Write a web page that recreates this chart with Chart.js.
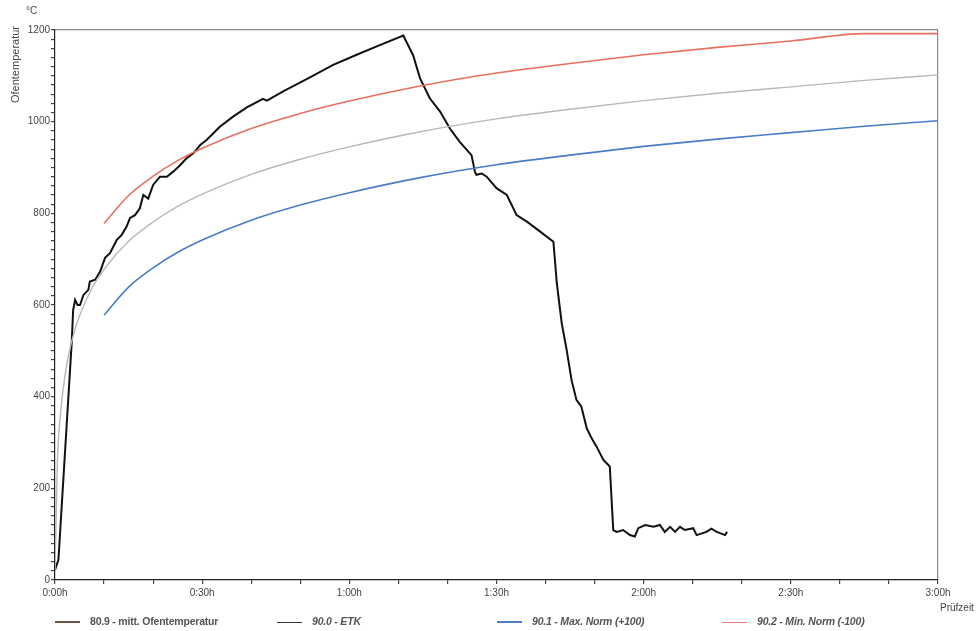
<!DOCTYPE html>
<html lang="de">
<head>
<meta charset="UTF-8">
<title>Ofentemperatur</title>
<script src="https://cdn.jsdelivr.net/npm/chart.js"></script>
<style>
  body { margin: 0; background: #fff; }
  #wrap { position: relative; width: 979px; height: 631px; }
  .leg { position: absolute; top: 615px; font: bold 10.5px "Liberation Sans", Arial, sans-serif; color: #555; white-space: nowrap; letter-spacing: -0.2px; }
  .leg i { display: inline-block; width: 25px; height: 2px; vertical-align: middle; margin-right: 10px; }
  .it { font-style: italic; }
</style>
</head>
<body>
<div id="wrap">
  <canvas id="c" width="979" height="631"></canvas>
  <div class="leg" style="left:55px"><i style="background:#6e5546"></i>80.9 - mitt. Ofentemperatur</div>
  <div class="leg it" style="left:277px"><i style="background:#333;height:1px"></i>90.0 - ETK</div>
  <div class="leg it" style="left:497px"><i style="background:#4a7cc8"></i>90.1 - Max. Norm (+100)</div>
  <div class="leg it" style="left:722px"><i style="background:#e88080;height:1px"></i>90.2 - Min. Norm (-100)</div>
</div>
<script>
// measured furnace temperature (minutes, °C)
const ofenTime = [0, 0.7, 3.4, 3.7, 4.1, 4.6, 5.1, 5.8, 6.8, 7.1, 8.2, 9.2, 10.2, 11.2, 12.6, 13.6, 14.6, 15.3, 16.3, 17.3,
  18, 19, 20, 21.4, 22.8, 24.1, 25.5, 26.8, 28.2, 29.6, 30.9, 33.6, 36.3, 39.1, 42.4, 43.2, 46.5, 51.3, 56.7, 61.5, 66.2, 71,
  73, 74.4, 76.4, 78.5, 80.5, 82.5, 84.9, 85.6, 85.9, 87, 88, 90, 92.1, 94.1, 96.2, 98.9, 101.6,
  102.3, 103.3, 104.3, 105.3, 106.3, 107.3, 108.4, 109.4, 110.4, 111.8, 112.8, 113.1, 113.8,
  114.5, 115.8, 117.2, 118.2, 118.9, 120.3, 122, 123.3, 124.3, 125.4, 126.4, 127.4, 128.4, 130.1, 130.8, 132.8, 133.8, 134.9, 136.6, 137];
const ofenTemp = [22, 44, 517, 589, 611, 600, 600, 622, 633, 651, 655, 673, 703, 713, 742, 753, 771, 790, 796, 811,
  840, 832, 862, 880, 880, 891, 905, 920, 931, 949, 960, 989, 1011, 1031, 1050, 1046, 1066, 1093, 1124, 1146, 1167, 1188,
  1145, 1095, 1051, 1022, 985, 956, 927, 891, 884, 887, 880, 855, 840, 796, 782, 760, 738,
  647, 560, 502, 436, 393, 378, 331, 309, 291, 262, 251, 247, 109,
  105, 109, 98, 95, 113, 120, 116, 120, 105, 116, 105, 116, 109, 113, 98, 105, 112, 105, 98, 105];

// ETK and tolerance curves
const etkTime = [0, 0.5, 1, 2, 3, 4, 5, 7.5, 10, 15, 20, 25, 30, 40, 50, 60, 75, 90, 105, 120, 135, 150, 165, 180];
const etkTemp = [20, 261, 349, 444, 502, 544, 576, 636, 678, 739, 781, 815, 842, 885, 918, 945, 979, 1006, 1027, 1046, 1062, 1076, 1090, 1102];
const normTime = [10, 15, 20, 25, 30, 40, 50, 60, 75, 90, 105, 120, 135, 150, 165, 180];
const maxNormTemp = [578, 639, 681, 715, 742, 785, 818, 845, 879, 906, 927, 946, 962, 976, 990, 1002];
const minNormTemp = [778, 839, 881, 915, 942, 985, 1018, 1045, 1079, 1106, 1127, 1146, 1162, 1176, 1192, 1192];

const xTicks = ['0:00h', '0:30h', '1:00h', '1:30h', '2:00h', '2:30h', '3:00h'];

const pts = (xs, ys) => xs.map((x, i) => ({ x: x, y: ys[i] }));

const labelsPlugin = {
  id: 'labels',
  afterDraw(chart) {
    const ctx = chart.ctx;
    ctx.save();
    ctx.fillStyle = '#444';
    ctx.font = '10px "Liberation Sans", Arial, sans-serif';
    ctx.fillText('°C', 26, 14);
    ctx.fillText('Prüfzeit', 940, 611);
    ctx.font = '11px "Liberation Sans", Arial, sans-serif';
    ctx.translate(19, 26);
    ctx.rotate(-Math.PI / 2);
    ctx.textAlign = 'right';
    ctx.fillText('Ofentemperatur', 0, 0);
    ctx.restore();
  }
};

new Chart(document.getElementById('c'), {
  type: 'line',
  data: {
    datasets: [
      { label: '90.2 - Min. Norm (-100)', data: pts(normTime, minNormTemp), borderColor: '#e8705e', borderWidth: 1.6, cubicInterpolationMode: 'monotone' },
      { label: '90.0 - ETK', data: pts(etkTime, etkTemp), borderColor: '#b8b8b8', borderWidth: 1.4, cubicInterpolationMode: 'monotone' },
      { label: '90.1 - Max. Norm (+100)', data: pts(normTime, maxNormTemp), borderColor: '#4a7cc8', borderWidth: 1.6, cubicInterpolationMode: 'monotone' },
      { label: '80.9 - mitt. Ofentemperatur', data: pts(ofenTime, ofenTemp), borderColor: '#111', borderWidth: 2, tension: 0, cubicInterpolationMode: 'default' }
    ]
  },
  options: {
    responsive: false,
    animation: false,
    elements: { point: { radius: 0 } },
    layout: { padding: { top: 30, right: 41, left: 0, bottom: 0 } },
    plugins: { legend: { display: false }, tooltip: { enabled: false } },
    scales: {
      x: {
        type: 'linear', min: 0, max: 180,
        afterFit: s => { s.height = 51; },
        ticks: {
          stepSize: 10, autoSkip: false, maxRotation: 0, padding: 3,
          color: '#444', font: { family: 'Liberation Sans', size: 10 },
          callback: v => v % 30 === 0 ? xTicks[v / 30] : ''
        },
        grid: {
          color: c => c.tick && c.tick.value === 180 ? '#888' : 'rgba(0,0,0,0)',
          tickColor: '#444', tickLength: 4, lineWidth: 1.2
        },
        border: { color: '#222', width: 1.2 }
      },
      y: {
        min: 0, max: 1200,
        afterFit: s => { s.width = 55; },
        ticks: {
          stepSize: 20, autoSkip: false, padding: 1,
          color: '#444', font: { family: 'Liberation Sans', size: 10 },
          callback: v => v % 200 === 0 ? v : ''
        },
        grid: {
          color: c => c.tick && c.tick.value === 1200 ? '#888' : 'rgba(0,0,0,0)',
          tickColor: '#444', tickLength: 4, lineWidth: 1.2
        },
        border: { color: '#222', width: 1.2 }
      }
    }
  },
  plugins: [labelsPlugin]
});
</script>
</body>
</html>
